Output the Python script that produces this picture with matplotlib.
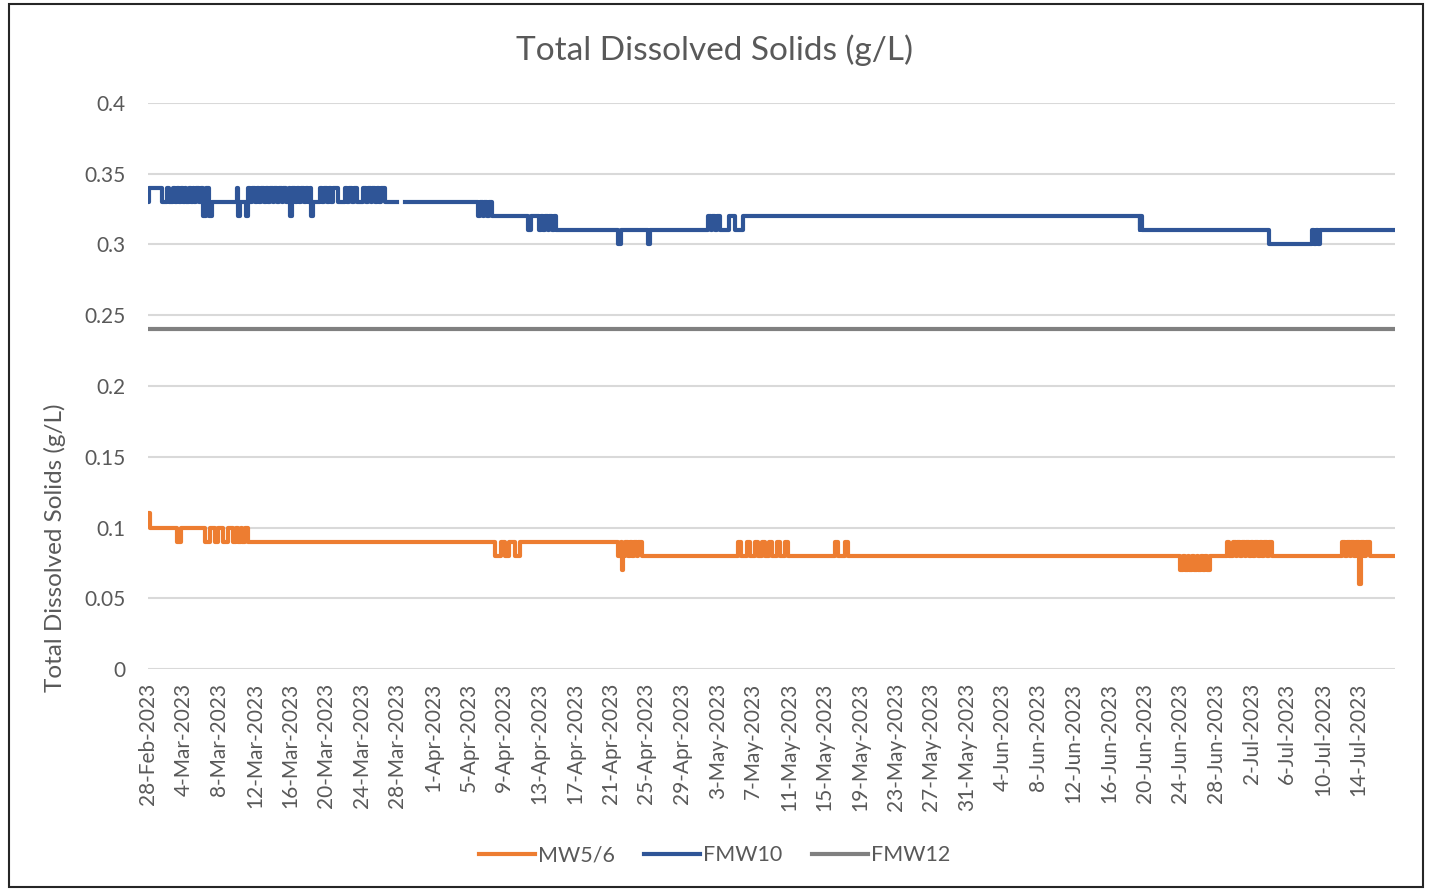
import numpy as np
import pandas as pd
import matplotlib
matplotlib.use("Agg")
import matplotlib.pyplot as plt
from matplotlib.patches import Rectangle
from matplotlib.ticker import FuncFormatter

plt.rcParams['font.family'] = ['Lato', 'DejaVu Sans']

start = pd.Timestamp("2023-02-28")

# step change points: days after 28-Feb-2023, value (g/L)
mw56_day = [0.0, 0.2, 3.3, 3.7, 6.4, 7.0, 7.5, 7.9, 8.4, 9.0,
            9.6, 9.9, 10.1, 10.4, 10.6, 10.9, 11.2,
            39.0, 39.6, 40.1, 40.6, 41.2, 41.8,
            52.8, 53.1, 53.3, 53.4, 53.6, 53.9, 54.1, 54.4, 54.6, 54.9, 55.1, 55.5,
            66.3, 66.6, 67.3, 67.6, 68.2, 68.5, 69.0, 69.3, 69.8, 70.1, 70.7, 71.0, 71.6, 71.9,
            77.2, 77.5, 78.3, 78.6,
            116.0, 116.3, 116.5, 116.8, 117.0, 117.3, 117.5, 117.8, 118.0, 118.3, 118.5, 118.8, 119.0, 119.3,
            121.2, 121.4,
            121.9, 122.2, 122.4, 122.7, 122.9, 123.2, 123.4, 123.7, 123.9, 124.2, 124.4, 124.7,
            124.9, 125.2, 125.4, 125.7, 125.9, 126.3,
            134.2, 134.5, 134.7, 135.0, 135.2, 135.5, 135.7, 136.1, 136.3, 136.6, 136.8, 137.3,
            140.1]
mw56_val = [0.11, 0.10, 0.09, 0.10, 0.09, 0.10, 0.09, 0.10, 0.09, 0.10,
            0.09, 0.10, 0.09, 0.10, 0.09, 0.10, 0.09,
            0.08, 0.09, 0.08, 0.09, 0.08, 0.09,
            0.08, 0.09, 0.07, 0.08, 0.09, 0.08, 0.09, 0.08, 0.09, 0.08, 0.09, 0.08,
            0.09, 0.08, 0.09, 0.08, 0.09, 0.08, 0.09, 0.08, 0.09, 0.08, 0.09, 0.08, 0.09, 0.08,
            0.09, 0.08, 0.09, 0.08,
            0.07, 0.08, 0.07, 0.08, 0.07, 0.08, 0.07, 0.08, 0.07, 0.08, 0.07, 0.08, 0.07, 0.08,
            0.09, 0.08,
            0.09, 0.08, 0.09, 0.08, 0.09, 0.08, 0.09, 0.08, 0.09, 0.08, 0.09, 0.08,
            0.09, 0.08, 0.09, 0.08, 0.09, 0.08,
            0.09, 0.08, 0.09, 0.08, 0.09, 0.08, 0.09, 0.06, 0.09, 0.08, 0.09, 0.08,
            0.08]

fmw10_day = [0.0, 0.1, 1.6, 2.1, 2.3, 2.8, 3.0, 3.2, 3.5, 3.7, 3.9, 4.1, 4.3, 4.6, 4.8,
             5.0, 5.2, 5.4, 5.7, 5.9, 6.2, 6.5, 6.8, 7.2,
             10.0, 10.1, 10.3, 11.0,
             11.2, 11.5, 11.7, 12.0, 12.2, 12.5, 12.7, 13.0, 13.2, 13.5, 13.7, 14.0, 14.2, 14.5,
             14.7, 15.0, 15.2, 15.5, 15.8, 16.0, 16.2, 16.5, 16.7, 17.0, 17.2, 17.5, 17.7, 18.0,
             18.2, 18.3, 18.5,
             19.3, 19.6, 19.8, 20.1, 20.3, 20.6, 20.8, 21.3,
             22.1, 22.4, 22.6, 22.9, 23.1, 23.5,
             24.2, 24.5, 24.7, 25.0, 25.2, 25.5, 25.7, 26.0, 26.2, 26.6,
             28.0, 28.9,
             37.1, 37.3, 37.6, 37.8, 38.1, 38.3, 38.7,
             42.7, 43.0,
             43.9, 44.1, 44.4, 44.6, 44.9, 45.1, 45.4, 45.6, 45.8,
             52.8, 53.1, 56.2, 56.4,
             62.9, 63.2, 63.4, 63.7, 63.9, 64.3, 65.3, 65.9, 66.9,
             111.4, 111.5, 111.7,
             126.0,
             130.8, 131.0, 131.2, 131.4, 131.7,
             140.1]
fmw10_val = [0.33, 0.34, 0.33, 0.34, 0.33, 0.34, 0.33, 0.34, 0.33, 0.34, 0.33, 0.34, 0.33, 0.34, 0.33,
             0.34, 0.33, 0.34, 0.33, 0.34, 0.32, 0.34, 0.32, 0.33,
             0.34, 0.32, 0.33, 0.32,
             0.34, 0.33, 0.34, 0.33, 0.34, 0.33, 0.34, 0.33, 0.34, 0.33, 0.34, 0.33, 0.34, 0.33,
             0.34, 0.33, 0.34, 0.33, 0.34, 0.32, 0.34, 0.33, 0.34, 0.33, 0.34, 0.33, 0.34, 0.33,
             0.34, 0.32, 0.33,
             0.34, 0.33, 0.34, 0.33, 0.34, 0.33, 0.34, 0.33,
             0.34, 0.33, 0.34, 0.33, 0.34, 0.33,
             0.34, 0.33, 0.34, 0.33, 0.34, 0.33, 0.34, 0.33, 0.34, 0.33,
             np.nan, 0.33,
             0.32, 0.33, 0.32, 0.33, 0.32, 0.33, 0.32,
             0.31, 0.32,
             0.31, 0.32, 0.31, 0.32, 0.31, 0.32, 0.31, 0.32, 0.31,
             0.30, 0.31, 0.30, 0.31,
             0.32, 0.31, 0.32, 0.31, 0.32, 0.31, 0.32, 0.31, 0.32,
             0.31, 0.32, 0.31,
             0.30,
             0.31, 0.30, 0.31, 0.30, 0.31,
             0.31]

fmw12_day = [0.0, 140.1]
fmw12_val = [0.24, 0.24]

tick_dates = pd.date_range("2023-02-28", "2023-07-14", freq="4D")
tick_labels = [f"{d.day}-{d:%b-%Y}" for d in tick_dates]


def to_dates(days):
    return start + pd.to_timedelta(days, unit="D")


text_c = "#595959"
fig = plt.figure(figsize=(14.29, 8.90), dpi=100)
ax = fig.add_axes([0.1036, 0.2483, 0.8726, 0.636])

ax.plot(to_dates(mw56_day), mw56_val, drawstyle="steps-post", color="#ED7D31", lw=3, label="MW5/6")
ax.plot(to_dates(fmw10_day), fmw10_val, drawstyle="steps-post", color="#2F5597", lw=3, label="FMW10")
ax.plot(to_dates(fmw12_day), fmw12_val, color="#808080", lw=3, label="FMW12")

ax.set_ylim(0, 0.4)
ax.set_yticks(np.arange(0, 0.401, 0.05))
ax.yaxis.set_major_formatter(FuncFormatter(lambda v, p: f"{v:g}"))
ax.set_xlim(start, to_dates(140.1))
ax.set_xticks(tick_dates)
ax.set_xticklabels(tick_labels, rotation=90)
ax.grid(axis="y", color="#D9D9D9", lw=1.5)
ax.set_axisbelow(True)
for s in ax.spines.values():
    s.set_visible(False)
ax.tick_params(length=0, labelsize=15, colors=text_c, pad=10)
ax.tick_params(axis="y", pad=16)
ax.set_ylabel("Total Dissolved Solids (g/L)", fontsize=17.5, color=text_c)
ax.yaxis.set_label_coords(-0.066, 0.215)
fig.text(0.5, 0.944, "Total Dissolved Solids (g/L)", fontsize=24, color=text_c,
         ha="center", va="center")

fig.legend(loc="center", bbox_to_anchor=(0.5, 0.039), ncol=3, frameon=False,
           fontsize=15.5, labelcolor=text_c, handlelength=2.6, handletextpad=0.15,
           columnspacing=1.35)

fig.add_artist(Rectangle((0.006, 0.003), 0.99, 0.993, transform=fig.transFigure,
                         fill=False, edgecolor="#262626", lw=1.5))

fig.savefig("out.png", dpi=100)
